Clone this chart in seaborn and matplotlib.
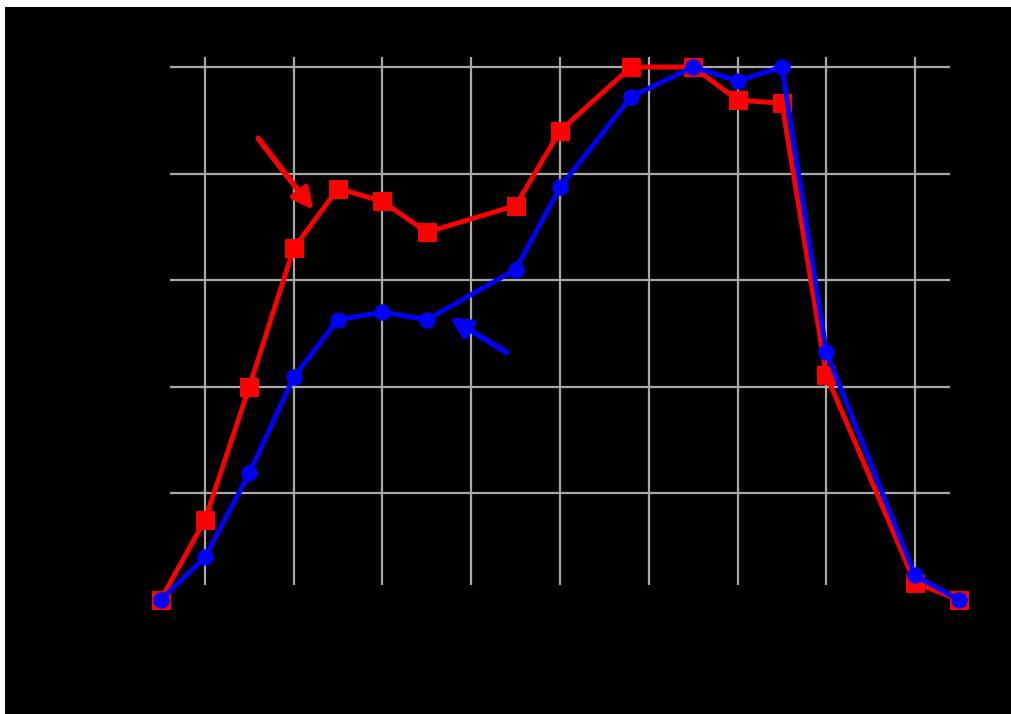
import numpy as np
import pandas as pd
import matplotlib
matplotlib.use("Agg")
import matplotlib.pyplot as plt
from matplotlib.patches import Rectangle
import seaborn as sns

# Sample positions shared by both curves
x_vals = [0.5, 1.0, 1.5, 2.0, 2.5, 3.0, 3.5, 4.5, 5.0, 5.8, 6.5, 7.0, 7.5, 8.0, 9.0, 9.5]

# Red curve (square markers)
red_vals = [0.0, 0.75, 2.0, 3.3, 3.86, 3.74, 3.45, 3.7, 4.4, 5.0, 5.0, 4.69, 4.66, 2.11, 0.16, 0.0]

# Blue curve (circle markers)
blue_vals = [0.0, 0.40, 1.19, 2.09, 2.63, 2.70, 2.63, 3.10, 3.87, 4.72, 5.0, 4.87, 5.0, 2.33, 0.23, 0.0]

x_ticks = [1, 2, 3, 4, 5, 6, 7, 8, 9]
y_ticks = [1, 2, 3, 4, 5]

sns.set_theme(style="dark")

fig = plt.figure(figsize=(10.12, 7.14), dpi=100)
fig.patch.set_facecolor("white")
# dark backdrop leaving a thin light border on the top and left
fig.add_artist(Rectangle((5 / 1012, -0.02), 1.05, 1.02 - 7 / 714,
                         transform=fig.transFigure, facecolor="black",
                         edgecolor="none", zorder=0))

ax = fig.add_axes([170 / 1012, 1 - 585 / 714, 780 / 1012, 528 / 714])
ax.set_facecolor("black")

df_red = pd.DataFrame({"x": x_vals, "y": red_vals})
df_blue = pd.DataFrame({"x": x_vals, "y": blue_vals})

sns.lineplot(data=df_red, x="x", y="y", ax=ax, color="#ff0000", lw=3.5,
             marker="s", markersize=13, markeredgecolor="#ff0000",
             sort=False, zorder=3)
sns.lineplot(data=df_blue, x="x", y="y", ax=ax, color="#0000ff", lw=3.5,
             marker="o", markersize=11, markeredgecolor="#0000ff",
             sort=False, zorder=4)
for line in ax.lines:
    line.set_clip_on(False)

ax.set_xlim(0.606, 9.394)
ax.set_ylim(0.14, 5.094)
ax.set_xticks(x_ticks)
ax.set_yticks(y_ticks)
ax.tick_params(colors="black", labelcolor="black", length=0)
ax.set_xlabel("")
ax.set_ylabel("")
ax.grid(True, color="#a8a8a8", lw=1.6)
for s in ax.spines.values():
    s.set_visible(False)

# pointer arrows for each curve
ax.annotate("", xy=(2.22, 3.66), xytext=(1.6, 4.33),
            arrowprops=dict(arrowstyle="-|>,head_length=0.5,head_width=0.25",
                            color="#ff0000", lw=4,
                            mutation_scale=24, shrinkA=0, shrinkB=0),
            annotation_clip=False, zorder=5)
ax.annotate("", xy=(3.76, 2.65), xytext=(4.40, 2.32),
            arrowprops=dict(arrowstyle="-|>,head_length=0.5,head_width=0.25",
                            color="#0000ff", lw=4,
                            mutation_scale=24, shrinkA=0, shrinkB=0),
            annotation_clip=False, zorder=5)

fig.savefig("out.png", dpi=100, facecolor=fig.get_facecolor())
